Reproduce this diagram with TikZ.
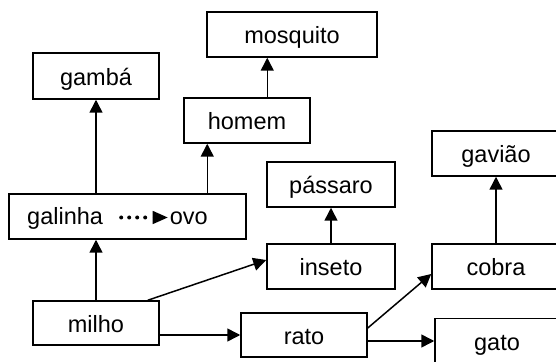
\documentclass[tikz,border=0pt]{standalone}
\usepackage{fontspec}
\setmainfont{Liberation Sans}
\usetikzlibrary{arrows.meta,calc}
\begin{document}
\begin{tikzpicture}[x=1pt,y=1pt,
  box/.style={draw,line width=1.5pt,inner sep=0pt,minimum height=45pt,text height=19pt,text depth=0pt,font=\fontsize{23.5}{27}\selectfont},
  lbl/.style={inner sep=0pt,text height=19pt,text depth=0pt,font=\fontsize{23.5}{27}\selectfont},
  arr/.style={line width=1.5pt,-{Triangle[length=13pt,width=13pt]}},
  dotarr/.style={line width=4pt,line cap=round,dash pattern=on 0pt off 8pt},
]
\useasboundingbox (0,0) rectangle (556,361);
\clip (0,0) rectangle (556,361);
\node[box,minimum width=126pt,minimum height=46pt] (gamba) at (96,285) {gambá};
\node[box,minimum width=170pt] (mosquito) at (292,326.5) {mosquito};
\node[box,minimum width=126pt] (homem) at (247,240.5) {homem};
\node[box,minimum width=237pt] (galinha) at (127.5,144.5) {};
\node[lbl,anchor=west] (galtxt) at (27,145.5) {galinha};
\node[lbl,anchor=east] (ovo) at (208,145.5) {ovo};
\node[box,minimum width=128pt] (passaro) at (331,176.5) {pássaro};
\node[box,minimum width=128pt] (inseto) at (331,94.5) {inseto};
\node[box,minimum width=126pt,minimum height=44pt] (milho) at (96,38) {milho};
\node[box,minimum width=126pt,minimum height=44pt] (rato) at (304,26) {rato};
\node[box,minimum width=128pt] (gaviao) at (496,207.5) {gavião};
\node[box,minimum width=128pt] (cobra) at (496,94.5) {cobra};
\node[box,minimum width=124pt] (gato) at (497,20) {gato};
% dotted arrow inside galinha box
\coordinate (dstart) at ($(galtxt.east)+(18,-2)$);
\coordinate (dend) at ($(ovo.west)+(-2,-2)$);
\draw[dotarr] (dstart) -- ($(dend)+(-15,0)$);
\draw[line width=1.4pt,-{Triangle[length=15pt,width=13pt]}] ($(dend)+(-15,0)$) -- (dend);
% connectors
\draw[arr] (galinha.north -| gamba.south) -- (gamba.south);
\draw[arr] ($(galinha.north -| homem.south west)+(24,0)$) -- ($(homem.south west)+(24,0)$);
\draw[arr] ($(homem.north west)+(84,0)$) -- ($(homem.north west |- mosquito.south)+(84,0)$);
\draw[arr] (milho.north) -- (milho.north |- galinha.south);
\draw[arr] ($(milho.north east)+(-12,0)$) -- ($(inseto.west)+(0,6.5)$);
\draw[arr] (milho.east |- rato.west) -- (rato.west);
\draw[arr] (inseto.north) -- (passaro.south);
\draw[arr] ($(rato.east)+(0,7)$) -- ($(cobra.west)+(0,-7.5)$);
\draw[arr] (rato.east |- gato.west) -- (gato.west);
\draw[arr] (cobra.north) -- (gaviao.south);
\end{tikzpicture}
\end{document}
